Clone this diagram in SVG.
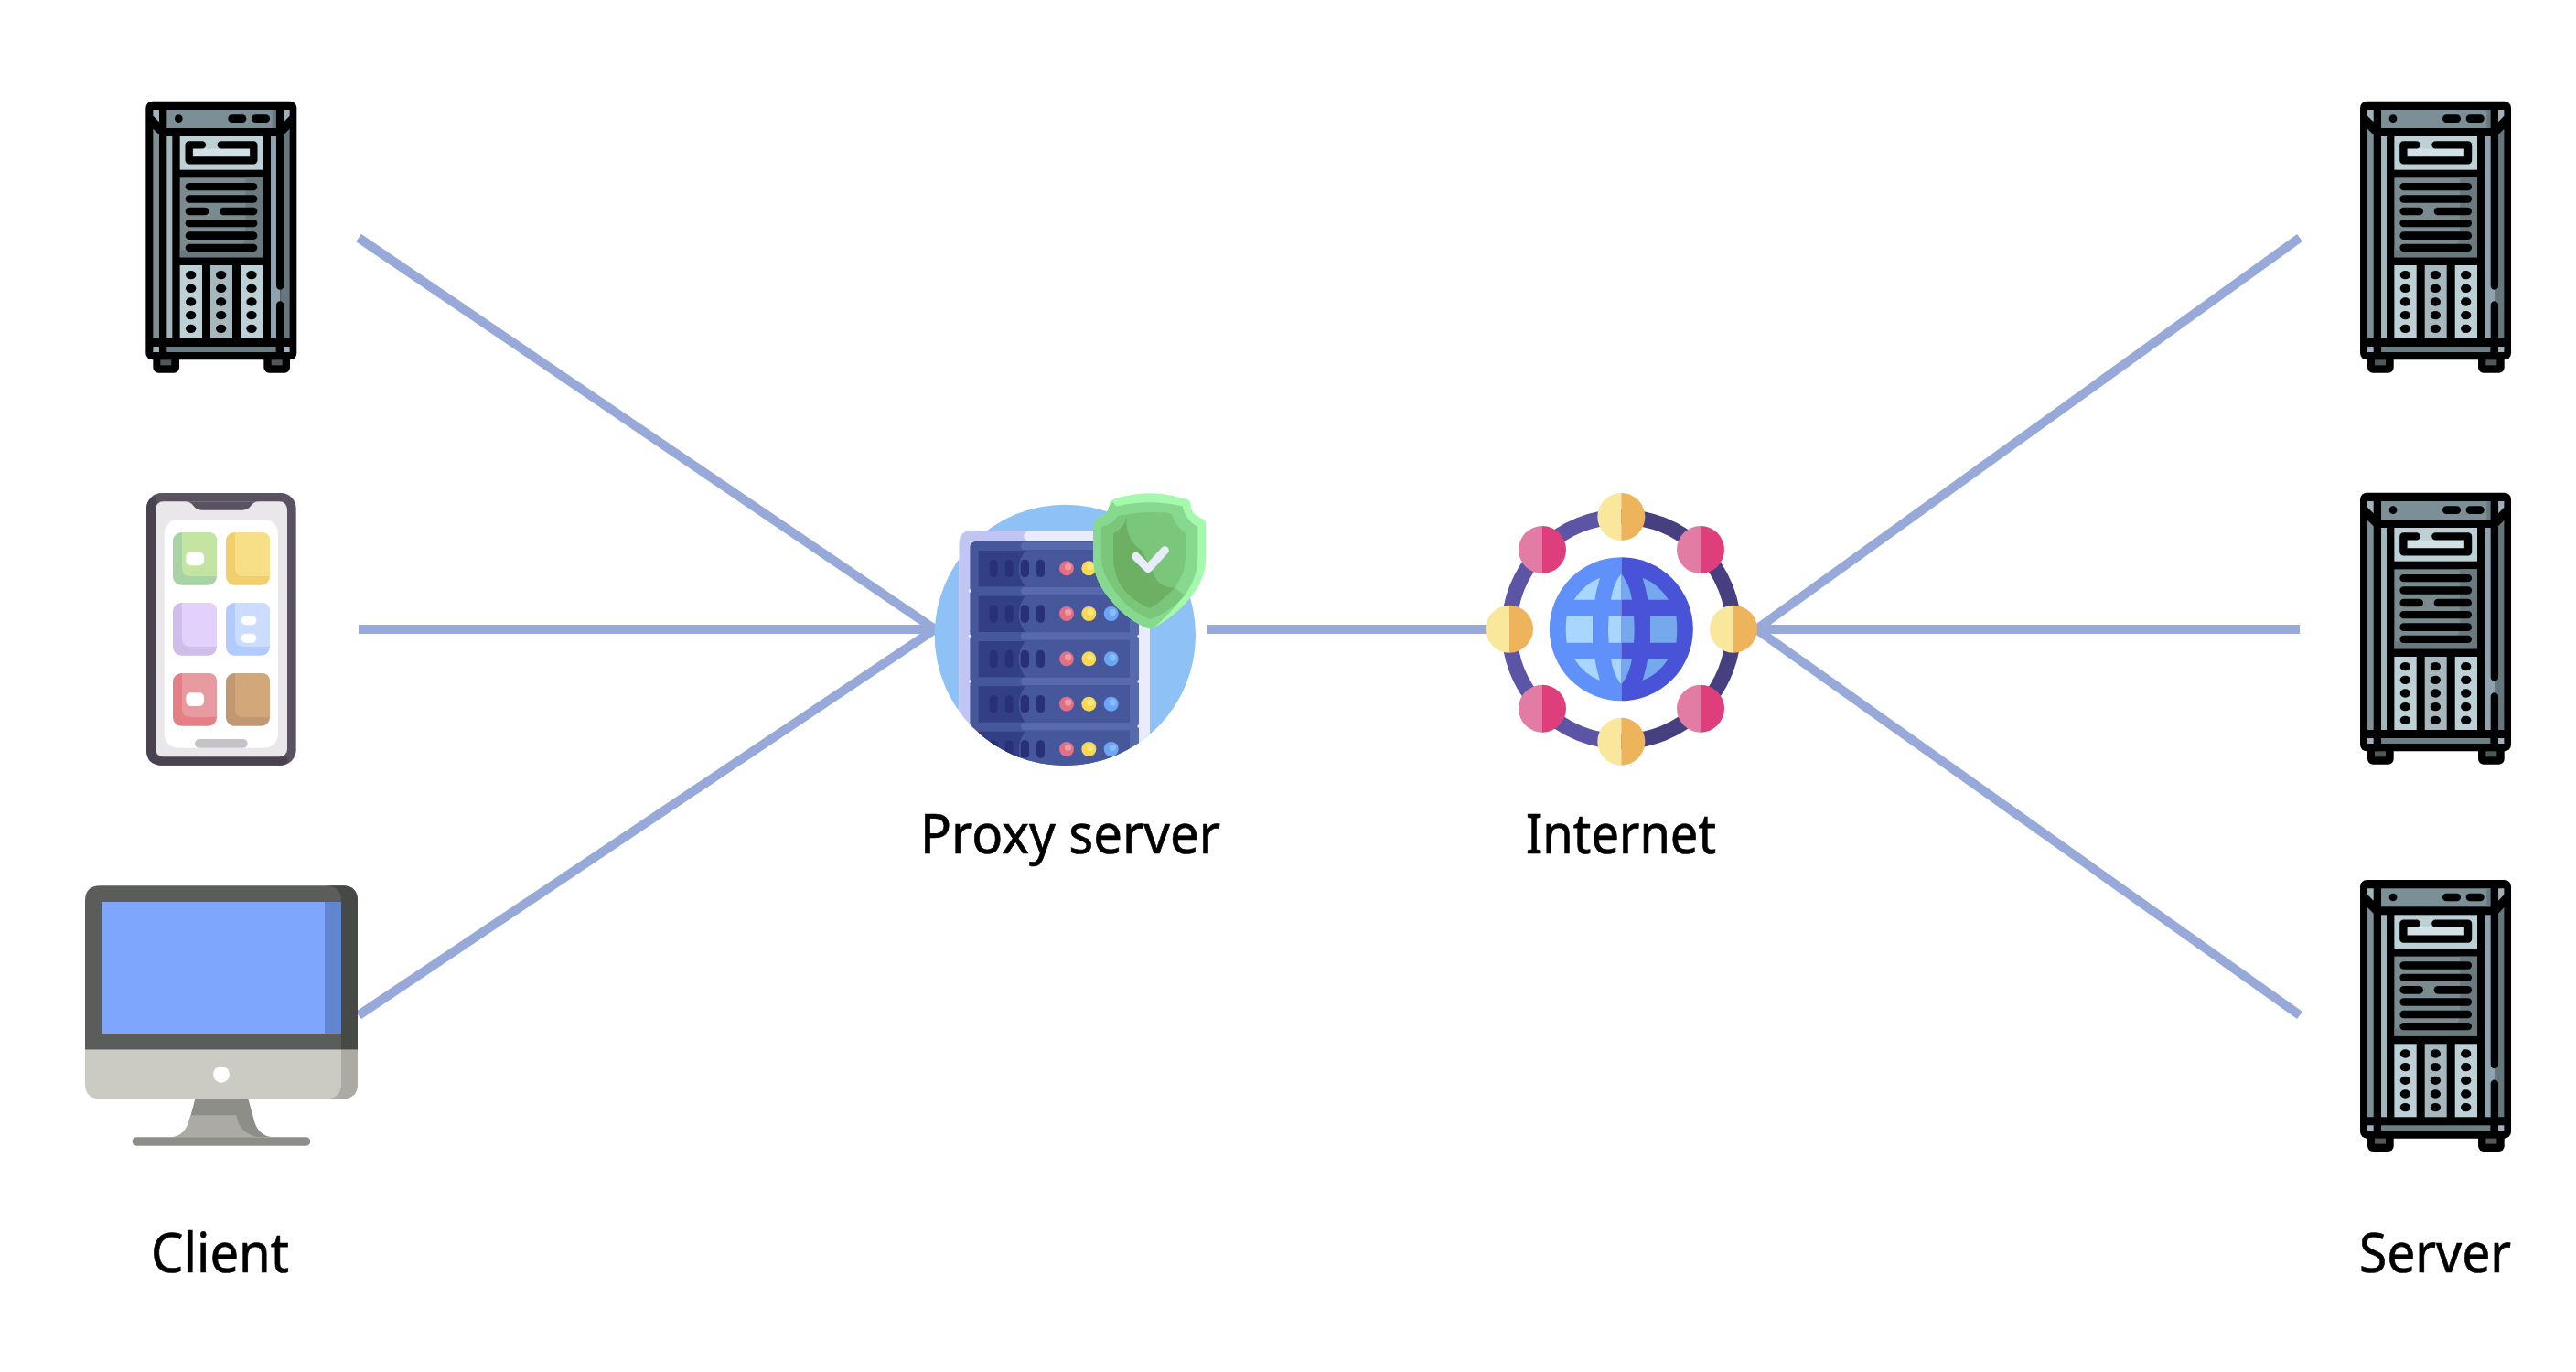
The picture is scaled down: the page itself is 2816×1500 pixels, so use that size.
<svg xmlns="http://www.w3.org/2000/svg" xmlns:xlink="http://www.w3.org/1999/xlink" width="2816" height="1500" viewBox="0 0 2816 1500">
<style>
.conn{stroke:#97a9d9;stroke-width:10;fill:none}
.lbl{font-family:"Noto Sans","Open Sans","Liberation Sans",sans-serif;font-size:60px;fill:#000;stroke:#000;stroke-width:.7px}
.k{fill:#000}
</style>
<defs>
<g id="server">
<rect class="k" x="82" y="860" width="86" height="93" rx="18"/>
<rect class="k" x="445" y="860" width="86" height="93" rx="18"/>
<rect class="k" x="58" y="62" width="495" height="848" rx="22"/>
<rect x="106" y="910" width="36" height="18" fill="#4f5a58"/>
<rect x="470" y="910" width="36" height="18" fill="#4f5a58"/>
<rect x="127" y="90" width="358" height="60" fill="#7d8f96"/>
<rect x="473" y="90" width="12" height="60" fill="#687880"/>
<circle class="k" cx="166" cy="119" r="13"/>
<rect class="k" x="328" y="106" width="60" height="26" rx="13"/>
<rect class="k" x="405" y="106" width="60" height="26" rx="13"/>
<path d="M82,90H102V130L82,110Z" fill="#a2b3bd"/>
<path d="M82,152L102,172V840H82Z" fill="#7d8f96"/>
<rect x="127" y="177" width="18" height="663" fill="#a3b6bd"/>
<path d="M511,90H530V110L511,130Z" fill="#9fb0ba"/>
<path d="M511,172L530,152V840H511Z" fill="#66767d"/>
<rect x="468" y="177" width="19" height="663" fill="#8fa2af"/>
<rect x="486" y="660" width="13" height="70" fill="#8fa2af"/>
<rect x="499" y="660" width="12" height="70" fill="#66767d"/>
<path class="k" d="M486,177H511V668A12.500,12.500 0 0 1 486,668ZM486,840H511V730A12.500,12.500 0 0 0 486,730Z"/>
<rect x="127" y="867" width="358" height="18" fill="#6d7e85"/>
<rect x="82" y="867" width="20" height="18" fill="#9fb0c0"/>
<rect x="511" y="867" width="19" height="18" fill="#9fb0c0"/>
<rect x="170" y="177" width="272" height="110" fill="#bdd0d6"/>
<rect x="215" y="218" width="183" height="25" fill="#d3e1e6"/>
<path d="M243,205H200V256H412V205H305" fill="none" stroke="#000" stroke-width="25" stroke-linecap="round" stroke-linejoin="round"/>
<rect x="170" y="313" width="272" height="261" fill="#7a8b90"/>
<path d="M385,313H442V574H170V550H360Q385,530 385,500Z" fill="#6a797e"/>
<g class="k">
<rect x="188" y="330" width="236" height="25" rx="12.500"/>
<rect x="188" y="370" width="236" height="25" rx="12.500"/>
<rect x="188" y="410" width="77" height="26" rx="13"/>
<rect x="300" y="410" width="124" height="26" rx="13"/>
<rect x="188" y="450" width="236" height="25" rx="12.500"/>
<rect x="188" y="490" width="236" height="26" rx="13"/>
<rect x="188" y="530" width="236" height="25" rx="12.500"/>
</g>
<rect x="170" y="600" width="73" height="240" fill="#bdd0d6"/>
<rect x="270" y="600" width="72" height="240" fill="#a6b8bd"/>
<rect x="369" y="600" width="73" height="240" fill="#bdd0d6"/>
<g class="k">
<ellipse cx="206" cy="632" rx="17" ry="14"/><ellipse cx="206" cy="676" rx="17" ry="14"/><ellipse cx="206" cy="720" rx="17" ry="14"/><ellipse cx="206" cy="764" rx="17" ry="14"/><ellipse cx="206" cy="808" rx="17" ry="14"/>
<ellipse cx="305" cy="632" rx="17" ry="14"/><ellipse cx="305" cy="676" rx="17" ry="14"/><ellipse cx="305" cy="720" rx="17" ry="14"/><ellipse cx="305" cy="764" rx="17" ry="14"/><ellipse cx="305" cy="808" rx="17" ry="14"/>
<ellipse cx="405" cy="632" rx="17" ry="14"/><ellipse cx="405" cy="676" rx="17" ry="14"/><ellipse cx="405" cy="720" rx="17" ry="14"/><ellipse cx="405" cy="764" rx="17" ry="14"/><ellipse cx="405" cy="808" rx="17" ry="14"/>
</g>
</g>
<rect id="tb" width="144" height="173" rx="28"/>
<path id="tt" d="M30,0H116Q144,0 144,28V144H58Q30,144 30,116Z"/>
<g id="rackrow">
<path d="M209,0H705V118H209Z" fill="#47579b"/>
<path d="M209,0H362Q320,59 362,118H209Z" fill="#333f85"/>
<g fill="#283078">
<rect x="245" y="29" width="27" height="58" rx="13"/><rect x="296" y="29" width="27" height="58" rx="13"/><rect x="347" y="29" width="28" height="58" rx="13"/><rect x="399" y="29" width="27" height="58" rx="13"/>
</g>
<circle cx="498" cy="58" r="24" fill="#e26f85"/><circle cx="503" cy="53" r="11" fill="#ee9aa8"/>
<circle cx="571" cy="58" r="24" fill="#f8d84f"/><circle cx="576" cy="53" r="11" fill="#fbe67f"/>
<circle cx="644" cy="58" r="24" fill="#69a6f6"/><circle cx="649" cy="53" r="11" fill="#8dbdf9"/>
</g>
<g id="ny"><path d="M0,-78A78,78 0 0 0 0,78Z" fill="#f9e79b"/><path d="M0,-78A78,78 0 0 1 0,78Z" fill="#edb45c"/></g>
<g id="np"><path d="M0,-78A78,78 0 0 0 0,78Z" fill="#e27ca4"/><path d="M0,-78A78,78 0 0 1 0,78Z" fill="#de3f7c"/></g>
<clipPath id="pc"><circle cx="493" cy="523" r="428"/><rect x="145" y="180" width="626" height="343"/></clipPath>
</defs>
<rect width="2816" height="1500" fill="#fff"/>

<g id="connectors">
<path class="conn" d="M392,260L1022,688"/>
<path class="conn" d="M392,688H1022"/>
<path class="conn" d="M392,1110L1022,688"/>
<path class="conn" d="M1320,688H1640"/>
<path class="conn" d="M1920,688L2514,260"/>
<path class="conn" d="M1920,688H2514"/>
<path class="conn" d="M1920,688L2514,1110"/>
</g>

<g id="client-server" transform="translate(140,90) scale(.33333)"><use href="#server"/></g>

<g id="client-phone" transform="translate(140,520) scale(.33333)">
<rect x="60" y="57" width="491" height="893" rx="50" fill="#5a5260"/>
<path d="M90,65Q60,80 60,107V900Q60,950 110,950H500Q530,950 522,922H110Q90,922 90,900Z" fill="#4b4250"/>
<rect x="90" y="85" width="432" height="837" rx="25" fill="#e9e7ea"/>
<path d="M185,85Q205,85 215,100Q225,113 240,113H375Q392,113 402,100Q412,85 430,85Z" fill="#5a5260"/>
<rect x="119" y="144" width="373" height="749" rx="45" fill="#fff"/>
<rect x="219" y="864" width="173" height="29" rx="14.500" fill="#c5c3c6"/>
<g transform="translate(147,186)"><use href="#tb" fill="#aad3a5"/><use href="#tt" fill="#c3e5a1"/></g>
<g transform="translate(321,186)"><use href="#tb" fill="#f2cf6e"/><use href="#tt" fill="#f6df87"/></g>
<g transform="translate(147,417)"><use href="#tb" fill="#cfbdea"/><use href="#tt" fill="#e1d1fb"/></g>
<g transform="translate(321,417)"><use href="#tb" fill="#b0cbfc"/><use href="#tt" fill="#cbdcfe"/></g>
<g transform="translate(147,648)"><use href="#tb" fill="#e47f86"/><use href="#tt" fill="#e79aa0"/></g>
<g transform="translate(321,648)"><use href="#tb" fill="#c09871"/><use href="#tt" fill="#d2a87a"/></g>
<g fill="#fff">
<rect x="190" y="251" width="59" height="44" rx="15"/>
<rect x="371" y="460" width="50" height="30" rx="15"/>
<rect x="371" y="518" width="50" height="30" rx="15"/>
<rect x="190" y="712" width="59" height="44" rx="15"/>
</g>
</g>

<g id="client-desktop" transform="translate(70,950) scale(.33333)">
<path d="M430,754H604L625,830Q640,878 690,880H350Q395,878 410,830Z" fill="#8d8e88"/>
<path d="M415,808H565Q575,870 640,880H352Q395,875 408,830Z" fill="#abaaa4"/>
<rect x="224" y="880" width="584" height="28" rx="14" fill="#8d8e88"/>
<path d="M69,105Q69,55 119,55H913Q963,55 963,105V593H69Z" fill="#5b5d5b"/>
<path d="M855,55H913Q963,55 963,105V593H909V105Q909,55 855,55Z" fill="#474947"/>
<rect x="123" y="108" width="786" height="432" fill="#7ea6fc"/>
<rect x="855" y="108" width="54" height="432" fill="#6186cf"/>
<path d="M69,593H963V704Q963,754 913,754H119Q69,754 69,704Z" fill="#cbcbc3"/>
<path d="M909,593H963V704Q963,754 913,754H859Q909,754 909,704Z" fill="#abaaa4"/>
<circle cx="516" cy="674" r="27" fill="#fff"/>
</g>

<g id="proxy-server" transform="translate(1000,520) scale(.33333)">
<circle cx="493" cy="523" r="428" fill="#8ec1f6"/>
<g clip-path="url(#pc)">
<path d="M145,1000V225Q145,180 190,180H771V1000Z" fill="#e9ecfd"/>
<path d="M145,1000V225Q145,180 190,180H370Q345,197 370,215H181V1000Z" fill="#c0c5f3"/>
<rect x="181" y="215" width="554" height="760" rx="20" fill="#47579b"/>
<g fill="#566aac">
<path d="M360,216H715Q735,216 735,236V975H705V216Z"/>
<rect x="348" y="218" width="387" height="25" rx="12"/>
<rect x="348" y="366" width="387" height="25" rx="12"/>
<rect x="348" y="514" width="387" height="25" rx="12"/>
<rect x="348" y="662" width="387" height="25" rx="12"/>
<rect x="348" y="810" width="387" height="25" rx="12"/>
</g>
<use href="#rackrow" y="246"/>
<use href="#rackrow" y="395"/>
<use href="#rackrow" y="543"/>
<use href="#rackrow" y="691"/>
<use href="#rackrow" y="839"/>
<g fill="#e9ecfd">
<circle cx="181" cy="378" r="5"/><circle cx="181" cy="526" r="5"/><circle cx="181" cy="675" r="5"/><circle cx="181" cy="822" r="5"/>
<circle cx="735" cy="378" r="5"/><circle cx="735" cy="526" r="5"/><circle cx="735" cy="675" r="5"/><circle cx="735" cy="822" r="5"/>
</g>
</g>
<path d="M650,78Q770,38 893,78Q905,82 905,100Q908,128 940,140Q955,145 955,160V270Q955,340 900,405Q850,465 785,498Q770,506 755,498Q680,460 640,405Q585,340 585,270V160Q585,145 600,140Q632,128 638,100Q638,82 650,78Z" fill="#a5f9ad"/>
<path d="M650,85Q655,100 665,100Q770,75 878,100Q885,145 928,168V270Q928,335 883,395Q835,455 785,498Q770,506 755,498Q680,460 640,405Q585,340 585,270V160Q585,145 600,140Q632,128 638,100Z" fill="#86d98f"/>
<path d="M665,132Q770,112 842,125Q855,165 888,190V270Q888,320 852,368L885,392Q835,450 770,472Q690,435 650,370Q612,320 612,270V168Q650,160 665,132Z" fill="#7ac77c"/>
<path d="M651,190Q690,170 695,132Q690,215 745,245L783,320Q795,365 852,368Q815,410 770,435Q690,400 665,340Q651,300 651,270Z" fill="#6db064"/>
<path d="M725,265L765,305L820,245" fill="none" stroke="#e9ecfd" stroke-width="27" stroke-linecap="round" stroke-linejoin="round"/>
</g>

<g id="internet" transform="translate(1600,520) scale(.33333)">
<path d="M517,135.500A368,368 0 0 0 517,871.500" fill="none" stroke="#5c55a6" stroke-width="50"/>
<path d="M517,135.500A368,368 0 0 1 517,871.500" fill="none" stroke="#463f80" stroke-width="50"/>
<path d="M517,268A235,235 0 0 0 517,739Z" fill="#6090fa"/>
<path d="M517,268A235,235 0 0 1 517,739Z" fill="#4853d8"/>
<g fill="#a9d6fe">
<path d="M338,460H423V548H338Q332,503 338,460Z"/>
<path d="M476,460H517V548H476Q472,503 476,460Z"/>
<path d="M362,407H430Q436,370 447,335Q395,355 362,407Z"/>
<path d="M517,322Q490,355 483,407H517Z"/>
<path d="M362,600H430Q436,637 447,672Q395,652 362,600Z"/>
<path d="M517,685Q490,652 483,600H517Z"/>
</g>
<g fill="#76a8ee">
<path d="M697,460H612V548H697Q703,503 697,460Z"/>
<path d="M558,460H517V548H558Q562,503 558,460Z"/>
<path d="M672,407H604Q598,370 587,335Q639,355 672,407Z"/>
<path d="M517,322Q544,355 552,407H517Z"/>
<path d="M672,600H604Q598,637 587,672Q639,652 672,600Z"/>
<path d="M517,685Q544,652 552,600H517Z"/>
</g>
<use href="#ny" x="517" y="135"/>
<use href="#ny" x="885" y="503"/>
<use href="#ny" x="517" y="872"/>
<use href="#ny" x="150" y="503"/>
<use href="#np" x="258" y="243"/>
<use href="#np" x="777" y="243"/>
<use href="#np" x="258" y="764"/>
<use href="#np" x="777" y="764"/>
</g>

<g id="server-1" transform="translate(2560.700,90) scale(.33333)"><use href="#server"/></g>
<g id="server-2" transform="translate(2560.700,518) scale(.33333)"><use href="#server"/></g>
<g id="server-3" transform="translate(2560.700,941.300) scale(.33333)"><use href="#server"/></g>

<g id="labels">
<text class="lbl" x="165" y="1391" textLength="151" lengthAdjust="spacingAndGlyphs">Client</text>
<text class="lbl" x="1006" y="933" textLength="328" lengthAdjust="spacingAndGlyphs">Proxy server</text>
<text class="lbl" x="1668" y="933" textLength="208" lengthAdjust="spacingAndGlyphs">Internet</text>
<text class="lbl" x="2579" y="1391" textLength="166" lengthAdjust="spacingAndGlyphs">Server</text>
</g>
</svg>
